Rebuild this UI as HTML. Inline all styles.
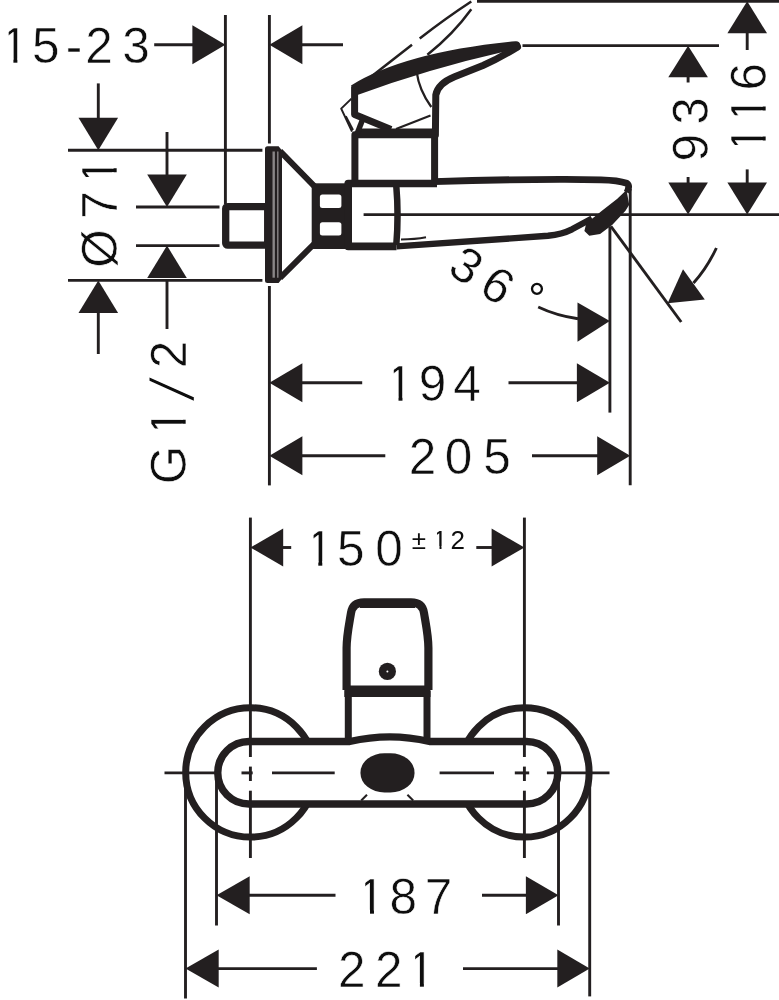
<!DOCTYPE html>
<html><head><meta charset="utf-8"><title>Dimension drawing</title>
<style>html,body{margin:0;padding:0;background:#fff}svg{display:block;will-change:transform}text{font-family:"Liberation Sans",sans-serif;fill:#0e0e0e;stroke:#fff;stroke-width:0.55px;paint-order:fill stroke}</style>
</head><body>
<svg width="779" height="1000" viewBox="0 0 779 1000">
<rect width="779" height="1000" fill="#ffffff"/>
<g stroke="#231f20" fill="none" stroke-linecap="butt" stroke-linejoin="round">
<line x1="154.2" y1="44.7" x2="193" y2="44.7" stroke-width="2.9" />
<polygon points="225.4,44.7 192.4,25.200000000000003 192.4,64.2" fill="#231f20" stroke="none"/>
<line x1="225.4" y1="15" x2="225.4" y2="204" stroke-width="2.9" />
<line x1="269.4" y1="15" x2="269.4" y2="143.5" stroke-width="2.9" />
<line x1="269.4" y1="286" x2="269.4" y2="485.4" stroke-width="2.9" />
<polygon points="269.4,44.7 302.4,25.200000000000003 302.4,64.2" fill="#231f20" stroke="none"/>
<line x1="301" y1="44.7" x2="343" y2="44.7" stroke-width="2.9" />
<line x1="98.3" y1="83.4" x2="98.3" y2="119" stroke-width="2.9" />
<polygon points="98.3,150.3 78.5,117.80000000000001 118.1,117.80000000000001" fill="#231f20" stroke="none"/>
<line x1="68" y1="150.3" x2="262.4" y2="150.3" stroke-width="2.9" />
<line x1="167" y1="132" x2="167" y2="176" stroke-width="2.9" />
<polygon points="167,207 147.2,174.5 186.8,174.5" fill="#231f20" stroke="none"/>
<line x1="136" y1="207" x2="219.5" y2="207" stroke-width="2.9" />
<line x1="136" y1="245.6" x2="219.5" y2="245.6" stroke-width="2.9" />
<polygon points="167,245.6 147.2,278.1 186.8,278.1" fill="#231f20" stroke="none"/>
<line x1="167" y1="279" x2="167" y2="329" stroke-width="2.9" />
<line x1="68" y1="280.4" x2="262.4" y2="280.4" stroke-width="2.9" />
<polygon points="98.3,280.4 78.5,312.9 118.1,312.9" fill="#231f20" stroke="none"/>
<line x1="98.3" y1="312" x2="98.3" y2="354" stroke-width="2.9" />
<line x1="363.6" y1="214.6" x2="779" y2="214.6" stroke-width="2.9" />
<line x1="522.5" y1="45.6" x2="719" y2="45.6" stroke-width="2.9" />
<line x1="477" y1="1.3" x2="779" y2="1.3" stroke-width="3" />
<polygon points="688.1,45.7 668.3000000000001,77.2 707.9,77.2" fill="#231f20" stroke="none"/>
<line x1="688.1" y1="76" x2="688.1" y2="82.5" stroke-width="2.9" />
<polygon points="688.1,214.4 668.3000000000001,182.6 707.9,182.6" fill="#231f20" stroke="none"/>
<line x1="688.1" y1="177" x2="688.1" y2="184" stroke-width="2.9" />
<polygon points="747.2,1.3 727.4000000000001,33.3 767.0,33.3" fill="#231f20" stroke="none"/>
<line x1="747.2" y1="33" x2="747.2" y2="50" stroke-width="2.9" />
<polygon points="747.2,214.4 727.4000000000001,182.6 767.0,182.6" fill="#231f20" stroke="none"/>
<line x1="747.2" y1="169.4" x2="747.2" y2="184" stroke-width="2.9" />
<line x1="609.9" y1="226.3" x2="609.9" y2="412.6" stroke-width="2.9" />
<line x1="630.2" y1="189" x2="630.2" y2="485.3" stroke-width="2.9" />
<line x1="610.9" y1="226.3" x2="681.2" y2="322" stroke-width="2.9" />
<polygon points="667.6,303.2 683,269.3 704.8,299.4" fill="#231f20" stroke="none"/>
<path d="M693.5,283 Q707,268 716.4,248" stroke-width="2.9"/>
<path d="M538.2,307 Q556,315.5 578,318.8" stroke-width="2.9"/>
<polygon points="609.8,321 577.5,302.4 577.5,341.7" fill="#231f20" stroke="none"/>
<polygon points="269.4,382.8 302.4,363.3 302.4,402.3" fill="#231f20" stroke="none"/>
<line x1="301" y1="382.8" x2="362.2" y2="382.8" stroke-width="2.9" />
<line x1="508.5" y1="382.8" x2="578" y2="382.8" stroke-width="2.9" />
<polygon points="609.9,382.8 576.9,363.3 576.9,402.3" fill="#231f20" stroke="none"/>
<polygon points="269.4,455.8 302.4,436.3 302.4,475.3" fill="#231f20" stroke="none"/>
<line x1="301" y1="455.8" x2="385.3" y2="455.8" stroke-width="2.9" />
<line x1="532" y1="455.8" x2="598" y2="455.8" stroke-width="2.9" />
<polygon points="630.2,455.8 597.2,436.3 597.2,475.3" fill="#231f20" stroke="none"/>
<rect x="225.7" y="206.6" width="42" height="38.6" rx="2" stroke-width="7.3"/>
<path d="M282,150.5 L282,278.7 L278.6,282.9 L267.5,282.9 Q265,282.9 265,280.4 L265,148.8 Q265,146.3 267.5,146.3 L278.6,146.3 Z" fill="#231f20" stroke="none"/>
<path d="M315,186.8 L280,151.2 M280,278 L315,243 M315.2,184 L315.2,248" stroke-width="6"/>
<line x1="273.7" y1="151.5" x2="273.7" y2="277.7" stroke-width="2.4" stroke="#8a8687"/>
<line x1="277.8" y1="151.5" x2="277.8" y2="277.7" stroke-width="1.4" stroke="#8a8687"/>
<rect x="311.7" y="183.3" width="36" height="65.7" fill="#231f20" stroke="none"/>
<rect x="319.9" y="194.6" width="21.5" height="13.3" rx="2.5" fill="#fff" stroke="none"/>
<rect x="319.9" y="222.3" width="21.5" height="13.3" rx="2.5" fill="#fff" stroke="none"/>
<path d="M437,183.5 L348.2,183.5 L348.2,246.4 L396.5,246.4" stroke-width="7.6"/>
<path d="M396.3,186 Q398.8,215 396.3,245" stroke-width="6.5"/>
<path d="M401,239.6 Q415,239.4 426,237.3" stroke-width="2"/>
<path d="M354.9,183 L354.9,134.8 L434.6,134.8 L434.6,183" stroke-width="7"/>
<path d="M434,181.7 Q500,179.3 565,179.4 L601,179.8 Q618,180.2 626.8,183.2 Q630.3,185.7 627,192.5" stroke-width="6.8"/>
<path d="M396.5,246.4 L548,235.8 Q562,234.3 572,229.3 L592,218.5" stroke-width="6.4"/>
<polygon points="626.5,190 629.2,204.7 625.5,210.8 612.4,224.7 600.1,234 589.3,235.8 584.4,230.9 586.2,223.5 601.6,211 617,199" fill="#231f20" stroke="none"/>
<path d="M351,85.5 Q405,52 515.5,41.3 A4.8,4.8 0 0 1 517.5,50.6 L505,51.6 Q430,68.5 356,95.5 Z" fill="#231f20" stroke="none"/>
<path d="M517.5,47 Q500,58 482.9,65.5 L454.6,76.8 Q438,83.5 435.8,95 L435.4,135" stroke-width="7" stroke-linecap="round"/>
<path d="M354.6,86.5 L354.6,114.5 L391,129.5" stroke-width="7"/>
<line x1="358" y1="132.3" x2="436" y2="132.3" stroke-width="7.4" />
<line x1="362.2" y1="120.5" x2="357" y2="134" stroke-width="5.5" />
<path d="M396,129 L430.5,115.5" stroke-width="2.2"/>
<path d="M416.7,72 Q419,90 431.3,107" stroke-width="2.2"/>
<path d="M351.5,98.6 L341.2,108.6 L352,131.7" stroke-width="2"/>
<path d="M345.8,116.3 L353,130" stroke-width="2"/>
<path d="M372,76 L412,44.7 M419.7,38.5 Q446,18 471.3,1.5" stroke-width="2.5"/>
<path d="M427.4,54.7 Q453.2,34.2 471.3,9.2" stroke-width="2.5"/>
<circle cx="250.4" cy="772.4" r="64.7" stroke-width="7"/>
<circle cx="524.4" cy="772.4" r="64.7" stroke-width="7"/>
<path d="M249,741.5 L349.7,741.5 Q390,732.3 429.4,741.5 L526.5,741.5 A31.25,31.25 0 0 1 526.5,804 L249,804 A31.25,31.25 0 0 1 249,741.5 Z" fill="#fff" stroke-width="7.4"/>
<rect x="360.5" y="753.2" width="54" height="39.2" rx="24" ry="19" fill="#231f20" stroke="none"/>
<line x1="361.2" y1="800.5" x2="367" y2="794.7" stroke-width="2" />
<line x1="407.4" y1="794.7" x2="413.2" y2="800.5" stroke-width="2" />
<line x1="348.3" y1="691" x2="348.3" y2="741" stroke-width="7" />
<line x1="427" y1="691" x2="427" y2="741" stroke-width="7" />
<line x1="344.3" y1="691.2" x2="430.5" y2="691.2" stroke-width="11.6" />
<path d="M346.6,690 L346.6,648 C346.6,636 349,625 351,613 Q352.6,602.3 364,602.3 L411,602.3 Q422.4,602.3 424,613 C426,625 428.4,636 428.4,648 L428.4,690" stroke-width="8.2"/>
<line x1="360" y1="604.2" x2="415" y2="604.2" stroke-width="7.6" />
<circle cx="387.4" cy="671.4" r="8.6" fill="#231f20" stroke="none"/>
<circle cx="387.4" cy="671.4" r="1" fill="#fff" stroke="none"/>
<line x1="250.4" y1="517.6" x2="250.4" y2="757" stroke-width="2.9" />
<line x1="250.4" y1="766.6" x2="250.4" y2="781" stroke-width="2.9" />
<line x1="250.4" y1="790.7" x2="250.4" y2="858" stroke-width="2.9" />
<line x1="524.4" y1="517.6" x2="524.4" y2="757" stroke-width="2.9" />
<line x1="524.4" y1="766.6" x2="524.4" y2="781" stroke-width="2.9" />
<line x1="524.4" y1="790.7" x2="524.4" y2="858" stroke-width="2.9" />
<polygon points="250.4,547.5 283.2,528.5 283.2,566.5" fill="#231f20" stroke="none"/>
<line x1="282" y1="547.5" x2="291.2" y2="547.5" stroke-width="2.9" />
<polygon points="524.4,547.5 491.59999999999997,528.5 491.59999999999997,566.5" fill="#231f20" stroke="none"/>
<line x1="476.3" y1="547.5" x2="493" y2="547.5" stroke-width="2.9" />
<line x1="164.5" y1="772.9" x2="221" y2="772.9" stroke-width="2.9" />
<line x1="241.5" y1="772.9" x2="252.7" y2="772.9" stroke-width="2.9" />
<line x1="272" y1="772.9" x2="334.7" y2="772.9" stroke-width="2.9" />
<line x1="439.6" y1="772.9" x2="494" y2="772.9" stroke-width="2.9" />
<line x1="514.8" y1="772.9" x2="529.2" y2="772.9" stroke-width="2.9" />
<line x1="546.9" y1="772.9" x2="609.5" y2="772.9" stroke-width="2.9" />
<line x1="185.5" y1="773" x2="185.5" y2="998.5" stroke-width="2.9" />
<line x1="216.5" y1="773" x2="216.5" y2="925.5" stroke-width="2.9" />
<line x1="558.5" y1="773" x2="558.5" y2="925.5" stroke-width="2.9" />
<line x1="589.7" y1="773" x2="589.7" y2="996.4" stroke-width="2.9" />
<polygon points="216.5,895.2 249.7,876.2 249.7,914.2" fill="#231f20" stroke="none"/>
<line x1="248" y1="895.2" x2="335.5" y2="895.2" stroke-width="2.9" />
<line x1="482" y1="895.2" x2="527" y2="895.2" stroke-width="2.9" />
<polygon points="558.5,895.2 525.9,876.2 525.9,914.2" fill="#231f20" stroke="none"/>
<polygon points="185.5,968.6 218.7,949.6 218.7,987.6" fill="#231f20" stroke="none"/>
<line x1="217" y1="968.6" x2="316.9" y2="968.6" stroke-width="2.9" />
<line x1="463" y1="968.6" x2="559" y2="968.6" stroke-width="2.9" />
<polygon points="589.7,968.6 557.3000000000001,949.6 557.3000000000001,987.6" fill="#231f20" stroke="none"/>
</g>
<text font-size="49.5" text-anchor="middle" x="14.53 45.7 73.9 99.1 136" y="63.1">15-23</text>
<path transform="translate(14.53,63.1)" d="M-12.38,-37.12H-5.84V1.48H-12.38Z M-6.44,-4.36H-1.12V1.48H-6.44Z M2.85,-4.36H13.37V1.48H2.85Z" fill="#fff"/>
<text font-size="49.5" text-anchor="middle" x="399.63 432.5 467.1" y="401.2">194</text>
<path transform="translate(399.63,401.2)" d="M-12.38,-37.12H-5.84V1.48H-12.38Z M-6.44,-4.36H-1.12V1.48H-6.44Z M2.85,-4.36H13.37V1.48H2.85Z" fill="#fff"/>
<text font-size="49.5" text-anchor="middle" x="422.4 458.5 497" y="473.6">205</text>
<text font-size="49.5" text-anchor="middle" x="319.43 350.8 389" y="565.5">150</text>
<path transform="translate(319.43,565.5)" d="M-12.38,-37.12H-5.84V1.48H-12.38Z M-6.44,-4.36H-1.12V1.48H-6.44Z M2.85,-4.36H13.37V1.48H2.85Z" fill="#fff"/>
<text font-size="26" text-anchor="middle" style="stroke-width:0px" x="419 440.05 457.7" y="548.6">±12</text>
<path transform="translate(440.05,548.6)" d="M-6.5,-19.5H-3.07V0.78H-6.5Z M-3.38,-2.29H-0.53V0.78H-3.38Z M1.44,-2.29H7.02V0.78H1.44Z" fill="#fff"/>
<text font-size="49.5" text-anchor="middle" x="371.13 403.3 438.4" y="914.1">187</text>
<path transform="translate(371.13,914.1)" d="M-12.38,-37.12H-5.84V1.48H-12.38Z M-6.44,-4.36H-1.12V1.48H-6.44Z M2.85,-4.36H13.37V1.48H2.85Z" fill="#fff"/>
<text font-size="49.5" text-anchor="middle" x="351.8 388.8 421.03" y="987.4">221</text>
<path transform="translate(421.03,987.4)" d="M-12.38,-37.12H-5.84V1.48H-12.38Z M-6.44,-4.36H-1.12V1.48H-6.44Z M2.85,-4.36H13.37V1.48H2.85Z" fill="#fff"/>
<text font-size="49.5" text-anchor="middle" transform="rotate(-90)" x="-248.5 -204.9 -171.17" y="116.6">Ø71</text>
<path transform="rotate(-90) translate(-171.17,116.6)" d="M-12.38,-37.12H-5.84V1.48H-12.38Z M-6.44,-4.36H-1.12V1.48H-6.44Z M2.85,-4.36H13.37V1.48H2.85Z" fill="#fff"/>
<text font-size="49.5" text-anchor="middle" transform="rotate(-90)" x="-465 -422.67" y="186">G1</text>
<path transform="rotate(-90) translate(-422.67,186)" d="M-12.38,-37.12H-5.84V1.48H-12.38Z M-6.44,-4.36H-1.12V1.48H-6.44Z M2.85,-4.36H13.37V1.48H2.85Z" fill="#fff"/>
<text font-size="62.5" text-anchor="middle" style="stroke-width:1.5px" transform="rotate(-90) translate(-389,171.2) skewX(-10)" y="22.8">/</text>
<text font-size="49.5" text-anchor="middle" transform="rotate(-90)" x="-354.6" y="186">2</text>
<text font-size="49.5" text-anchor="middle" transform="rotate(-90)" x="-147.8 -111.1" y="707.6">93</text>
<text font-size="49.5" text-anchor="middle" transform="rotate(-90)" x="-139.27 -109.47 -76.7" y="765.8">116</text>
<path transform="rotate(-90) translate(-139.27,765.8)" d="M-12.38,-37.12H-5.84V1.48H-12.38Z M-6.44,-4.36H-1.12V1.48H-6.44Z M2.85,-4.36H13.37V1.48H2.85Z" fill="#fff"/>
<path transform="rotate(-90) translate(-109.47,765.8)" d="M-12.38,-37.12H-5.84V1.48H-12.38Z M-6.44,-4.36H-1.12V1.48H-6.44Z M2.85,-4.36H13.37V1.48H2.85Z" fill="#fff"/>
<text font-size="49.5" text-anchor="middle" transform="translate(466.6,265.4) rotate(33)" y="17.2">3</text>
<text font-size="49.5" text-anchor="middle" transform="translate(497.8,285) rotate(33)" y="17.2">6</text>
<text font-size="43.6" text-anchor="middle" style="stroke-width:0px" x="537" y="314.1">°</text>
</svg></body></html>
